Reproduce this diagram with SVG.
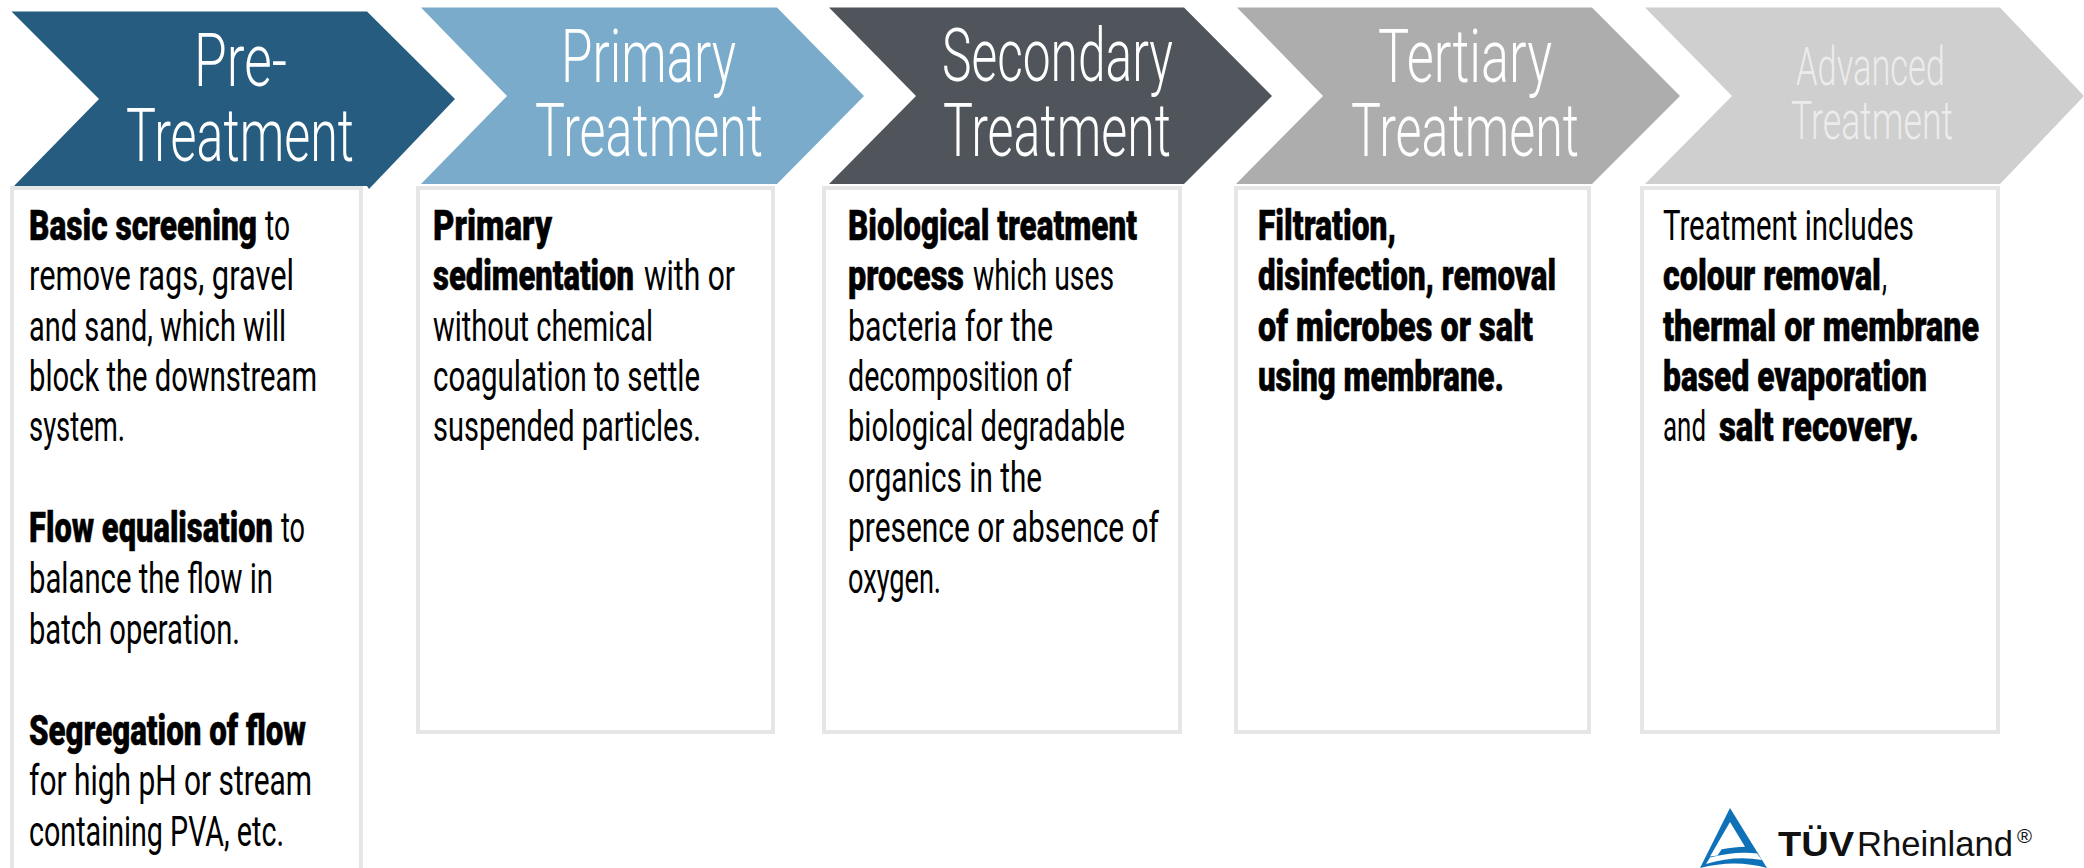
<svg xmlns="http://www.w3.org/2000/svg" width="2084" height="868" viewBox="0 0 2084 868">
<style>
text{font-family:"Roboto","Liberation Sans",sans-serif}
.t{fill:#fff;font-size:74px;font-weight:300}
.a{fill:#ececec;font-size:54px;font-weight:300}
.r{fill:#000;font-size:43px;font-weight:400}
.b{fill:#000;font-size:43px;font-weight:900;stroke:#000;stroke-width:.5px}
.box{fill:#fff;stroke:#e6e6e6;stroke-width:4px}
.lg{font-family:"Liberation Sans",Arial,sans-serif;fill:#111;font-size:35px}
</style>
<g id="box-pre">
<rect class="box" x="12" y="188" width="349" height="700"/>
<text y="240"><tspan class="b" x="29" textLength="228" lengthAdjust="spacingAndGlyphs">Basic screening</tspan><tspan class="r" x="265" textLength="25" lengthAdjust="spacingAndGlyphs">to</tspan></text>
<text class="r" x="29" y="290" textLength="265" lengthAdjust="spacingAndGlyphs">remove rags, gravel</text>
<text class="r" x="29" y="341" textLength="257" lengthAdjust="spacingAndGlyphs">and sand, which will</text>
<text class="r" x="29" y="391" textLength="288" lengthAdjust="spacingAndGlyphs">block the downstream</text>
<text class="r" x="29" y="441" textLength="96" lengthAdjust="spacingAndGlyphs">system.</text>
<text y="542"><tspan class="b" x="29" textLength="244" lengthAdjust="spacingAndGlyphs">Flow equalisation</tspan><tspan class="r" x="281" textLength="24" lengthAdjust="spacingAndGlyphs">to</tspan></text>
<text class="r" x="29" y="593" textLength="244" lengthAdjust="spacingAndGlyphs">balance the flow in</text>
<text class="r" x="29" y="644" textLength="211" lengthAdjust="spacingAndGlyphs">batch operation.</text>
<text class="b" x="29" y="745" textLength="277" lengthAdjust="spacingAndGlyphs">Segregation of flow</text>
<text class="r" x="29" y="795" textLength="283" lengthAdjust="spacingAndGlyphs">for high pH or stream</text>
<text class="r" x="29" y="846" textLength="255" lengthAdjust="spacingAndGlyphs">containing PVA, etc.</text>
</g>
<g id="box-primary">
<rect class="box" x="418" y="188" width="355" height="544"/>
<text class="b" x="433" y="240" textLength="119" lengthAdjust="spacingAndGlyphs">Primary</text>
<text y="290"><tspan class="b" x="433" textLength="201" lengthAdjust="spacingAndGlyphs">sedimentation</tspan><tspan class="r" x="644" textLength="91" lengthAdjust="spacingAndGlyphs">with or</tspan></text>
<text class="r" x="433" y="341" textLength="220" lengthAdjust="spacingAndGlyphs">without chemical</text>
<text class="r" x="433" y="391" textLength="267" lengthAdjust="spacingAndGlyphs">coagulation to settle</text>
<text class="r" x="433" y="441" textLength="268" lengthAdjust="spacingAndGlyphs">suspended particles.</text>
</g>
<g id="box-secondary">
<rect class="box" x="824" y="188" width="356" height="544"/>
<text class="b" x="848" y="240" textLength="289" lengthAdjust="spacingAndGlyphs">Biological treatment</text>
<text y="290"><tspan class="b" x="848" textLength="116" lengthAdjust="spacingAndGlyphs">process</tspan><tspan class="r" x="973" textLength="141" lengthAdjust="spacingAndGlyphs">which uses</tspan></text>
<text class="r" x="848" y="341" textLength="205" lengthAdjust="spacingAndGlyphs">bacteria for the</text>
<text class="r" x="848" y="391" textLength="224" lengthAdjust="spacingAndGlyphs">decomposition of</text>
<text class="r" x="848" y="441" textLength="277" lengthAdjust="spacingAndGlyphs">biological degradable</text>
<text class="r" x="848" y="492" textLength="194" lengthAdjust="spacingAndGlyphs">organics in the</text>
<text class="r" x="848" y="542" textLength="311" lengthAdjust="spacingAndGlyphs">presence or absence of</text>
<text class="r" x="848" y="593" textLength="93" lengthAdjust="spacingAndGlyphs">oxygen.</text>
</g>
<g id="box-tertiary">
<rect class="box" x="1236" y="188" width="353" height="544"/>
<text class="b" x="1258" y="240" textLength="138" lengthAdjust="spacingAndGlyphs">Filtration,</text>
<text class="b" x="1258" y="290" textLength="298" lengthAdjust="spacingAndGlyphs">disinfection, removal</text>
<text class="b" x="1258" y="341" textLength="275" lengthAdjust="spacingAndGlyphs">of microbes or salt</text>
<text class="b" x="1258" y="391" textLength="246" lengthAdjust="spacingAndGlyphs">using membrane.</text>
</g>
<g id="box-advanced">
<rect class="box" x="1642" y="188" width="356" height="544"/>
<text class="r" x="1663" y="240" textLength="251" lengthAdjust="spacingAndGlyphs">Treatment includes</text>
<text y="290"><tspan class="b" x="1663" textLength="218" lengthAdjust="spacingAndGlyphs">colour removal</tspan><tspan class="r" x="1882" textLength="5" lengthAdjust="spacingAndGlyphs">,</tspan></text>
<text class="b" x="1663" y="341" textLength="316" lengthAdjust="spacingAndGlyphs">thermal or membrane</text>
<text class="b" x="1663" y="391" textLength="264" lengthAdjust="spacingAndGlyphs">based evaporation</text>
<text y="441"><tspan class="r" x="1663" textLength="43" lengthAdjust="spacingAndGlyphs">and</tspan><tspan class="b" x="1719" textLength="200" lengthAdjust="spacingAndGlyphs">salt recovery.</tspan></text>
</g>
<g id="step-pre">
<polygon fill="#265c80" points="11.5,11.5 367,11.5 455,99 369,189 367,186 14,186 99,99"/>
<text class="t" x="194" y="86" textLength="93" lengthAdjust="spacingAndGlyphs">Pre-</text>
<text class="t" x="126" y="161" textLength="228" lengthAdjust="spacingAndGlyphs">Treatment</text>
</g>
<g id="step-primary">
<polygon fill="#7aabcb" points="421,7.5 777,7.5 864,96 777,184 421,184 507,96"/>
<text class="t" x="561" y="82" textLength="175" lengthAdjust="spacingAndGlyphs">Primary</text>
<text class="t" x="535" y="156" textLength="228" lengthAdjust="spacingAndGlyphs">Treatment</text>
</g>
<g id="step-secondary">
<polygon fill="#4f555a" points="829,7.5 1184,7.5 1272,96 1184,184 829,184 916,96"/>
<text class="t" x="942" y="81" textLength="231" lengthAdjust="spacingAndGlyphs">Secondary</text>
<text class="t" x="943" y="156" textLength="228" lengthAdjust="spacingAndGlyphs">Treatment</text>
</g>
<g id="step-tertiary">
<polygon fill="#adadad" points="1237,7.5 1592,7.5 1680,96 1592,184 1236,184 1323,96"/>
<text class="t" x="1378" y="82" textLength="174" lengthAdjust="spacingAndGlyphs">Tertiary</text>
<text class="t" x="1351" y="156" textLength="228" lengthAdjust="spacingAndGlyphs">Treatment</text>
</g>
<g id="step-advanced">
<polygon fill="#cfcfcf" points="1645,7.5 2000,7.5 2084,96 2000,184 1645,184 1732,96"/>
<text class="a" x="1796" y="85" textLength="149" lengthAdjust="spacingAndGlyphs">Advanced</text>
<text class="a" x="1791" y="139" textLength="162" lengthAdjust="spacingAndGlyphs">Treatment</text>
</g>
<g id="logo">
<path fill="#0f72b8" d="M1730 808 L1767 868 L1700 868 Z"/>
<path fill="#fff" d="M1730 822 L1710 856.5 L1717.5 855.5 L1721.7 849.3 Q1735 847 1745 846.7 Z"/>
<path fill="#fff" d="M1710 857.5 Q1735 851 1757 853.5 L1762 860 Q1735 855 1706 864 Z"/>
<path fill="#fff" d="M1700 868 Q1735 859 1767 868 Z"/>
<text class="lg" x="1778" y="856" font-weight="700" textLength="76" lengthAdjust="spacingAndGlyphs">TÜV</text>
<text class="lg" x="1857" y="856" textLength="156" lengthAdjust="spacingAndGlyphs">Rheinland</text>
<text class="lg" x="2017" y="843" style="font-size:20px" textLength="15" lengthAdjust="spacingAndGlyphs">®</text>
</g>
</svg>
